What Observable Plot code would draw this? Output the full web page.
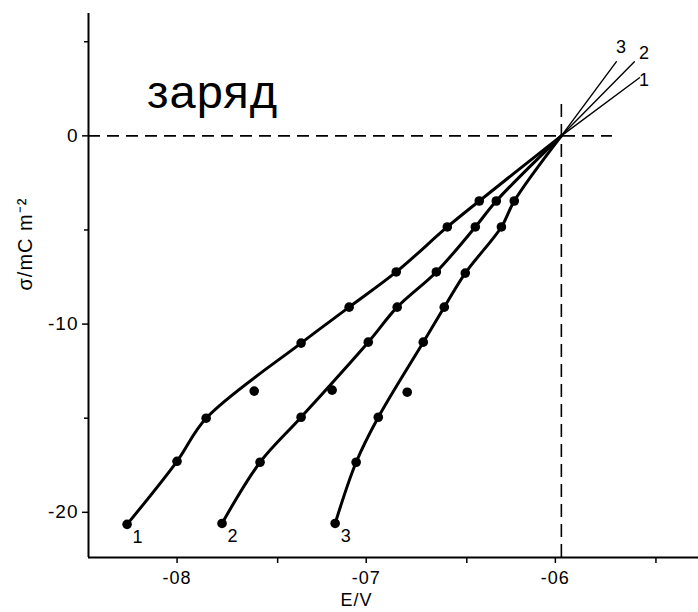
<!DOCTYPE html>
<html><head><meta charset="utf-8">
<script src="https://cdn.jsdelivr.net/npm/d3@7"></script>
<script src="https://cdn.jsdelivr.net/npm/@observablehq/plot@0.6"></script>
<style>body{margin:0;background:#fff}</style>
</head><body><div id="chart"></div>
<script>
// series names
const seriesNames = ["1", "2", "3"];
// measured points: E / V and sigma / mC m^-2
const E1 = [-0.8296, -0.8032, -0.7878, -0.7624, -0.7376, -0.7122, -0.6873, -0.6603, -0.6434];
const S1 = [-20.64, -17.29, -15.00, -13.56, -11.01, -9.10, -7.23, -4.84, -3.46];
const E2 = [-0.7794, -0.7593, -0.7376, -0.7212, -0.7021, -0.6868, -0.6661, -0.6455, -0.6344];
const S2 = [-20.59, -17.34, -14.95, -13.51, -10.96, -9.10, -7.23, -4.84, -3.46];
const E3 = [-0.7196, -0.7085, -0.6968, -0.6815, -0.6730, -0.6619, -0.6508, -0.6317, -0.6249];
const S3 = [-20.59, -17.34, -14.95, -13.62, -10.96, -9.10, -7.29, -4.84, -3.46];
// 1 = point lies on the fitted curve, 0 = scattered point off the curve
const onFit = [1, 1, 1, 0, 1, 1, 1, 1, 1];
// common intersection (point of zero charge) and ends of the extrapolated lines
const pzcE = -0.6, pzcS = 0;
const endE = [-0.5587, -0.5614, -0.5709];
const endS = [3.09, 3.94, 3.94];
// axes
const xTicks = [-0.8, -0.7, -0.6];
const xTickLabels = ["-08", "-07", "-06"];
const xMinor = [-0.75, -0.65, -0.55];
const yTicks = [0, -10, -20];
const yTickLabels = ["0", "-10", "-20"];
const yMinor = [5, -5, -15];
const xDomain = [-0.85, -0.5275];
const yDomain = [-22.4, 6.5];
const zeroLineEnd = -0.573;
const vertLineTop = 1.9;
const title = "заряд";
const yLabel = "σ/mC m⁻²";
const xLabel = "E/V";

const Es = [E1, E2, E3], Ss = [S1, S2, S3];
const points = [];
Es.forEach((E, i) => E.forEach((e, j) => points.push({s: seriesNames[i], E: e, S: Ss[i][j], on: onFit[j]})));
const fit = [];
seriesNames.forEach((s, i) => {
  points.filter(p => p.s === s && p.on).forEach(p => fit.push(p));
  fit.push({s, E: pzcE, S: pzcS});
});
const ext = [];
seriesNames.forEach((s, i) => { ext.push({s, E: pzcE, S: pzcS}); ext.push({s, E: endE[i], S: endS[i]}); });
const firstPts = seriesNames.map((s, i) => ({s, E: Es[i][0], S: Ss[i][0]}));
const endPts = seriesNames.map((s, i) => ({s, E: endE[i], S: endS[i]}));
const endOffsets = [[5, 3], [10, -8], [5, -14]];

const font = "'Liberation Sans', Arial, Helvetica, sans-serif";
const chart = Plot.plot({
  width: 698, height: 612,
  marginLeft: 88, marginRight: 0, marginTop: 13, marginBottom: 55,
  style: {fontFamily: font, fontSize: "18px", background: "#fff", color: "#000", letterSpacing: "1px"},
  x: {domain: xDomain, axis: null},
  y: {domain: yDomain, axis: null},
  marks: [
    Plot.ruleY([0], {x1: xDomain[0], x2: zeroLineEnd, stroke: "#000", strokeWidth: 1.6, strokeDasharray: "12,7"}),
    Plot.ruleX([pzcE], {y1: yDomain[0], y2: vertLineTop, stroke: "#000", strokeWidth: 1.6, strokeDasharray: "13,7"}),
    Plot.line(fit, {x: "E", y: "S", z: "s", curve: "catmull-rom", stroke: "#000", strokeWidth: 3}),
    Plot.line(ext, {x: "E", y: "S", z: "s", stroke: "#000", strokeWidth: 1.4}),
    Plot.dot(points, {x: "E", y: "S", r: 4.8, fill: "#000", stroke: "none"}),
    Plot.ruleY([yDomain[0]], {stroke: "#000", strokeWidth: 2}),
    Plot.ruleX([xDomain[0]], {y1: yDomain[0], y2: yDomain[1], stroke: "#000", strokeWidth: 2}),
    Plot.axisX(xTicks, {anchor: "bottom", tickSize: 6, tickPadding: 8, strokeWidth: 1.5, fontSize: 18, dx: -6,
      tickFormat: d => xTickLabels[xTicks.indexOf(d)], label: null}),
    Plot.axisX(xMinor, {anchor: "bottom", tickSize: 6, strokeWidth: 1.5, tickFormat: () => "", label: null}),
    Plot.axisY(yTicks, {anchor: "left", tickSize: 6, tickPadding: 4, strokeWidth: 1.5, fontSize: 19,
      tickFormat: d => yTickLabels[yTicks.indexOf(d)], label: null}),
    Plot.axisY(yMinor, {anchor: "left", tickSize: 4, strokeWidth: 1.5, tickFormat: () => "", label: null}),
    Plot.text(firstPts, {x: "E", y: "S", text: "s", dx: 11, dy: 13, fontSize: 18}),
    ...endPts.map((p, i) => Plot.text([p], {x: "E", y: "S", text: "s", dx: endOffsets[i][0], dy: endOffsets[i][1], fontSize: 18})),
    Plot.text([title], {x: () => -0.7844, y: () => 2.3, text: d => d, fontSize: 47, letterSpacing: 0}),
    Plot.text([yLabel], {frameAnchor: "left", dx: -63, dy: 5, rotate: -90, text: d => d, fontSize: 20}),
    Plot.text([xLabel], {x: () => -0.7083, frameAnchor: "bottom", dy: 48, text: d => d, fontSize: 18})
  ]
});
document.getElementById("chart").append(chart);
</script>
</body></html>
